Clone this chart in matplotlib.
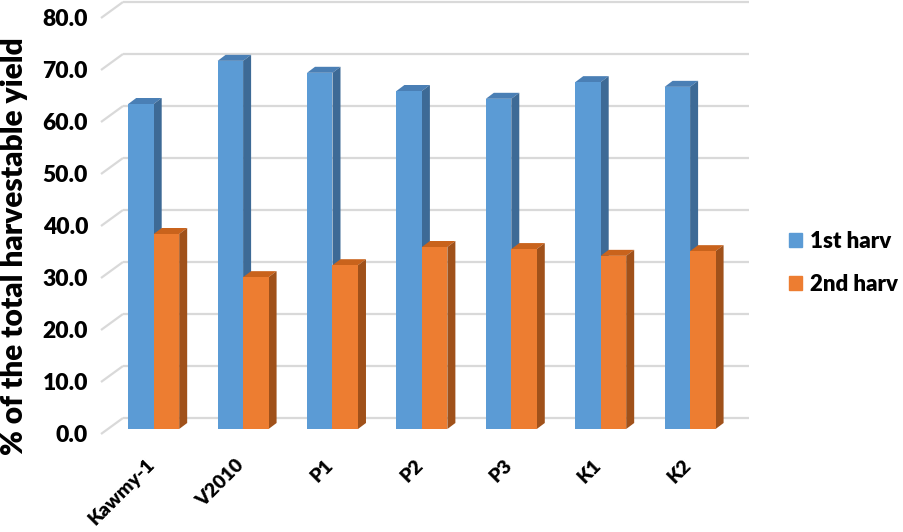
import matplotlib
matplotlib.use("Agg")
import matplotlib.pyplot as plt
from matplotlib.patches import Patch
import numpy as np

# data
varieties = ["Kawmy-1", "V2010", "P1", "P2", "P3", "K1", "K2"]
first_harv = [62.5, 70.8, 68.5, 65.0, 63.5, 66.7, 65.8]
second_harv = [37.5, 29.2, 31.5, 35.0, 34.6, 33.3, 34.2]
y_ticks = [0, 10, 20, 30, 40, 50, 60, 70, 80]
series_names = ["1st harv", "2nd harv"]

# colours (front, top, side)
BLUE = ("#5B9BD5", "#4A7FB5", "#3D6A96")
ORANGE = ("#ED7D31", "#C9631C", "#A0511A")

plt.rcParams["font.family"] = ["Lato", "DejaVu Sans"]
WEIGHT = "heavy"

W, H = 904, 532
fig = plt.figure(figsize=(W / 100, H / 100), dpi=100)

# axes placed in pixels; front plane: x -0.5..6.5 -> px 101..727, y 0..80 -> px 434..18
px_per_cat = 89.4
px_per_val = 5.2
ax_l, ax_r, ax_t, ax_b = 95, 760, 0, 440
ax = fig.add_axes([ax_l / W, (H - ax_b) / H, (ax_r - ax_l) / W, (ax_b - ax_t) / H])
ax.set_xlim(-0.5 + (ax_l - 101) / px_per_cat, -0.5 + (ax_r - 101) / px_per_cat)
ax.set_ylim((434 - ax_b) / px_per_val, (434 - ax_t) / px_per_val)

# depth offsets in data units
wall_dx, wall_dy = 22 / px_per_cat, 16 / px_per_val
bar_dx, bar_dy = 8 / px_per_cat, 5 / px_per_val
depth_dx, depth_dy = 8 / px_per_cat, 6 / px_per_val

n = len(varieties)
x = np.arange(n)

# gridlines on the back wall + left diagonals
grid_col = "#D9D9D9"
for v in y_ticks:
    ax.plot([-0.5, -0.5 + wall_dx], [v, v + wall_dy], color=grid_col, lw=1.6, zorder=1,
            solid_capstyle="butt")
    ax.plot([-0.5 + wall_dx, n - 0.5 + wall_dx], [v + wall_dy, v + wall_dy],
            color=grid_col, lw=1.6, zorder=1, solid_capstyle="butt")

bw = 0.285


def draw_bar(x0, val, cols):
    front, top, side = cols
    x1 = x0 + bw
    b = bar_dy
    t = bar_dy + val
    ax.fill([x0, x1, x1 + depth_dx, x0 + depth_dx], [t, t, t + depth_dy, t + depth_dy],
            color=top, lw=0, zorder=2)
    ax.fill([x1, x1, x1 + depth_dx, x1 + depth_dx], [b, t, t + depth_dy, b + depth_dy],
            color=side, lw=0, zorder=2)
    ax.bar(x0, val, width=bw, bottom=b, align="edge", color=front, lw=0, zorder=2)


for i in range(n):
    left = x[i] + bar_dx - bw
    draw_bar(left, first_harv[i], BLUE)
    draw_bar(left + bw, second_harv[i], ORANGE)

# axis styling
for s in ax.spines.values():
    s.set_visible(False)
ax.set_xticks([])
ax.set_yticks(y_ticks)
ax.set_yticklabels([f"{v:.1f}" for v in y_ticks], fontsize=16.5, fontweight=WEIGHT)
ax.tick_params(axis="y", length=0, pad=5)

# rotated category labels
for i, name in enumerate(varieties):
    ax.text(x[i] + 0.07, (434 - 462) / px_per_val, name, rotation=45, ha="right",
            va="center", rotation_mode="anchor", fontsize=14, fontweight=WEIGHT)

fig.text(14 / W, 1 - 246 / H, "% of the total harvestable yield", rotation=90,
         ha="center", va="center", fontsize=21.5, fontweight=WEIGHT)

handles = [Patch(color=BLUE[0]), Patch(color=ORANGE[0])]
fig.legend(handles, series_names, loc="center left", bbox_to_anchor=(789 / W, 1 - 263 / H),
           frameon=False, prop={"size": 16, "weight": WEIGHT}, handlelength=0.6,
           handleheight=0.6, handletextpad=0.35, labelspacing=1.0, borderpad=0,
           borderaxespad=0)

fig.savefig("out.png", dpi=100)
